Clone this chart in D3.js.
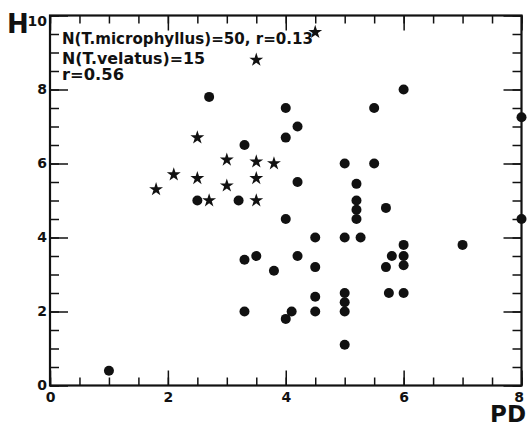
<!DOCTYPE html>
<html>
<head>
<meta charset="utf-8">
<script src="https://cdn.jsdelivr.net/npm/d3@7"></script>
<style>
    body { margin: 0; background: #fff; }
    svg { display: block; }
    text { font-family: "DejaVu Sans", "Liberation Sans", sans-serif; font-weight: bold; fill: #111; }
</style>
</head>
<body>
<div id="chart"></div>
<script>
// T. microphyllus (circles), [PD, H]
const microPD = [1.0, 2.7, 4.0, 4.2, 4.0, 3.3, 4.2, 2.5, 3.2, 4.0, 4.5, 6.0, 5.5, 8.0, 5.0, 5.5,
    5.2, 5.2, 5.2, 5.2, 5.7, 8.0, 5.0, 5.27, 6.0, 7.0, 5.8, 6.0, 4.2, 3.5, 3.3, 4.5, 5.7, 6.0,
    3.8, 4.5, 5.0, 5.75, 6.0, 5.0, 5.0, 3.3, 4.1, 4.0, 4.5, 5.0];
const microH = [0.4, 7.8, 7.5, 7.0, 6.7, 6.5, 5.5, 5.0, 5.0, 4.5, 4.0, 8.0, 7.5, 7.25, 6.0, 6.0,
    5.45, 5.0, 4.75, 4.5, 4.8, 4.5, 4.0, 4.0, 3.8, 3.8, 3.5, 3.5, 3.5, 3.5, 3.4, 3.2, 3.2, 3.25,
    3.1, 2.4, 2.5, 2.5, 2.5, 2.25, 2.0, 2.0, 2.0, 1.8, 2.0, 1.1];

// T. velatus (stars)
const velatusPD = [2.5, 3.0, 3.5, 3.8, 2.1, 2.5, 3.5, 3.0, 1.8, 2.7, 3.5, 4.5, 3.5];
const velatusH = [6.7, 6.1, 6.05, 6.0, 5.7, 5.6, 5.6, 5.4, 5.3, 5.0, 5.0, 9.55, 8.8];

const xMajor = [0, 2, 4, 6, 8];
const yMajor = [0, 2, 4, 6, 8, 10];
const minorTicks = d3.range(0, 10.01, 0.5);

const notes = ["N(T.microphyllus)=50, r=0.13", "N(T.velatus)=15", "r=0.56"];

const width = 527, height = 424;
const svg = d3.select("#chart").append("svg")
    .attr("width", width)
    .attr("height", height);

const x = d3.scaleLinear().domain([0, 8]).range([50, 521.5]);
const y = d3.scaleLinear().domain([0, 10]).range([385.5, 15.5]);

// minor ticks on all four sides
const minorX = minorTicks.filter(v => v <= 8);
svg.append("g").attr("transform", `translate(0,${y(0)})`)
    .call(d3.axisBottom(x).tickValues(minorX).tickSizeInner(-8).tickSizeOuter(0).tickFormat(""));
svg.append("g").attr("transform", `translate(0,${y(10)})`)
    .call(d3.axisTop(x).tickValues(minorX).tickSizeInner(-8).tickSizeOuter(0).tickFormat(""));
svg.append("g").attr("transform", `translate(${x(0)},0)`)
    .call(d3.axisLeft(y).tickValues(minorTicks).tickSizeInner(-9).tickSizeOuter(0).tickFormat(""));
svg.append("g").attr("transform", `translate(${x(8)},0)`)
    .call(d3.axisRight(y).tickValues(minorTicks).tickSizeInner(-9).tickSizeOuter(0).tickFormat(""));

// major ticks with labels
const xAxis = svg.append("g").attr("transform", `translate(0,${y(0)})`)
    .call(d3.axisBottom(x).tickValues(xMajor).tickSizeInner(-15).tickSizeOuter(0).tickPadding(7).tickFormat(d3.format("d")));
xAxis.selectAll("text").filter(d => d === 8).attr("dx", -3);

const yAxis = svg.append("g").attr("transform", `translate(${x(0)},0)`)
    .call(d3.axisLeft(y).tickValues(yMajor).tickSizeInner(-18).tickSizeOuter(0).tickPadding(3).tickFormat(d3.format("d")));

svg.append("g").attr("transform", `translate(0,${y(10)})`)
    .call(d3.axisTop(x).tickValues(xMajor).tickSizeInner(-15).tickSizeOuter(0).tickFormat(""));
svg.append("g").attr("transform", `translate(${x(8)},0)`)
    .call(d3.axisRight(y).tickValues(yMajor).tickSizeInner(-18).tickSizeOuter(0).tickFormat(""));

svg.selectAll(".domain").remove();
svg.selectAll(".tick line").attr("stroke", "#111").attr("stroke-width", 1.5);
svg.selectAll(".tick text").style("font-family", "DejaVu Sans, Liberation Sans, sans-serif")
    .style("font-weight", "bold").style("font-size", "14px").attr("fill", "#111");
yAxis.selectAll("text").filter(d => d === 10).attr("dy", "0.68em");

// frame
svg.append("rect")
    .attr("x", x(0))
    .attr("y", y(10))
    .attr("width", x(8) - x(0))
    .attr("height", y(0) - y(10))
    .attr("fill", "none")
    .attr("stroke", "#111")
    .attr("stroke-width", 2.2);

// axis titles
svg.append("text").attr("x", 7).attr("y", 33).style("font-size", "26px").text("H");
svg.append("text").attr("x", 526).attr("y", 422).attr("text-anchor", "end").style("font-size", "23px").text("PD");

// annotation
const noteY = [44, 64, 80];
const noteW = [251, 143, 62];
notes.forEach((t, i) => {
    svg.append("text")
        .attr("x", 62)
        .attr("y", noteY[i])
        .attr("textLength", noteW[i])
        .attr("lengthAdjust", "spacingAndGlyphs")
        .style("font-size", "15px")
        .text(t);
});

// circles
svg.selectAll("circle.micro")
    .data(microPD.map((d, i) => [d, microH[i]]))
    .enter()
    .append("circle")
    .attr("class", "micro")
    .attr("cx", d => x(d[0]))
    .attr("cy", d => y(d[1]))
    .attr("r", 5)
    .attr("fill", "#111");

// stars
const star = d3.symbol().type(d3.symbolStar).size(60);
svg.selectAll("path.velatus")
    .data(velatusPD.map((d, i) => [d, velatusH[i]]))
    .enter()
    .append("path")
    .attr("class", "velatus")
    .attr("d", star)
    .attr("transform", d => `translate(${x(d[0])},${y(d[1])})`)
    .attr("fill", "#111");
</script>
</body>
</html>
